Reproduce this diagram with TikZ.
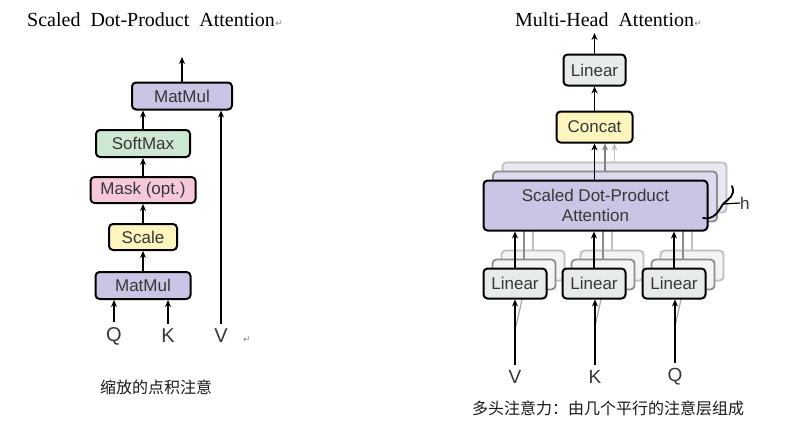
\documentclass[tikz,border=0pt]{standalone}
\usepackage{fontspec}
\setmainfont{Liberation Serif}
\setsansfont{Liberation Sans}
\newfontfamily\cjk{Noto Sans CJK SC}
\newfontfamily\symfont{DejaVu Sans}
\usetikzlibrary{arrows.meta,positioning}
\definecolor{mm-purple}{RGB}{203,196,228}
\definecolor{mm-purple-mid}{RGB}{221,217,238}
\definecolor{mm-purple-far}{RGB}{234,232,243}
\definecolor{sm-green}{RGB}{205,232,210}
\definecolor{mask-pink}{RGB}{246,200,220}
\definecolor{scale-yellow}{RGB}{252,245,190}
\definecolor{lin-gray}{RGB}{231,236,234}
\definecolor{lin-gray-back}{RGB}{243,245,244}
\definecolor{txt-gray}{RGB}{55,55,55}

\begin{document}
\begin{tikzpicture}[x=1pt, y=-1pt, >={Stealth[length=7pt,width=6pt]},
	blk/.style={draw, line width=2pt, rounded corners=4pt, inner sep=0pt,
		font={\sffamily\fontsize{17}{20}\selectfont}, text=txt-gray},
	ghostmid/.style={draw=black!45, line width=1.8pt, rounded corners=4pt},
	ghostfar/.style={draw=black!25, line width=1.8pt, rounded corners=4pt},
	arr/.style={->, line width=1.6pt},
	garr/.style={->, line width=1.4pt},
	lbl/.style={inner sep=5pt, font={\sffamily\fontsize{20}{20}\selectfont}, text=txt-gray},
	ttl/.style={inner sep=0pt, font={\fontsize{20}{24}\selectfont}},
	ret/.style={inner sep=0pt, text=black!50, font={\symfont\fontsize{9}{9}\selectfont}},
	captxt/.style={inner sep=0pt, text=black!90, font={\cjk\fontsize{16}{16}\selectfont}}]
	\useasboundingbox[fill=white] (0,0) rectangle (787,431);

	% scaled dot-product attention
	\node[ttl, anchor=base west] (titleL) at (27,26) {Scaled~~Dot-Product~~Attention};
	\node[ret, anchor=base west] (retL) at (titleL.base east) {↵};
	\node[blk, fill=mm-purple, minimum width=100pt, minimum height=27pt] (mmtop) at (182,96) {MatMul};
	\node[blk, fill=sm-green, minimum width=94pt, minimum height=27pt] (softmax) at (143,143.5) {SoftMax};
	\node[blk, fill=mask-pink, minimum width=105pt, minimum height=26pt] (mask) at (143,190) {Mask (opt.)};
	\node[blk, fill=scale-yellow, minimum width=68pt, minimum height=26pt] (scale) at (143,237) {Scale};
	\node[blk, fill=mm-purple, minimum width=95pt, minimum height=27pt] (mmbot) at (143,285.5) {MatMul};
	\node[lbl] (q) at (114,336) {Q};
	\node[lbl] (k) at (168,336) {K};
	\node[lbl] (v) at (221,336) {V};
	\node[ret, anchor=base west] (retV) at ([xshift=10pt]v.base east) {↵};
	\coordinate (outL) at (182,57);
	\draw[arr] (q.north) -- (q.north |- mmbot.south);
	\draw[arr] (k.north) -- (k.north |- mmbot.south);
	\draw[arr] (v.north) -- (v.north |- mmtop.south);
	\draw[arr] (mmbot.north) -- (scale.south);
	\draw[arr] (scale.north) -- (mask.south);
	\draw[arr] (mask.north) -- (softmax.south);
	\draw[arr] (softmax.north) -- (softmax.north |- mmtop.south);
	\draw[arr] (mmtop.north) -- (outL);
	\node[captxt] (capL) at (156,387) {缩放的点积注意};

	% multi-head attention
	\node[ttl, anchor=base west] (titleR) at (515,26) {Multi-Head~~Attention};
	\node[ret, anchor=base west] (retR) at (titleR.base east) {↵};
	% far copy
	\node[ghostfar, fill=mm-purple-far, minimum width=224pt, minimum height=50pt] (sdpa3) at (614.5,187.5) {};
	\node[ghostfar, fill=lin-gray-back, minimum width=63pt, minimum height=30pt] (lv3) at (533,265.5) {};
	\node[ghostfar, fill=lin-gray-back, minimum width=63pt, minimum height=30pt] (lk3) at (612,265.5) {};
	\node[ghostfar, fill=lin-gray-back, minimum width=63pt, minimum height=30pt] (lq3) at (692,265.5) {};
	\draw[line width=1.4pt, black!25] (lv3.north) -- (lv3.north |- sdpa3.south);
	\draw[line width=1.4pt, black!25] (lk3.north) -- (lk3.north |- sdpa3.south);
	\draw[line width=1.4pt, black!25] (lq3.north) -- (lq3.north |- sdpa3.south);
	% middle copy
	\node[ghostmid, fill=mm-purple-mid, minimum width=224pt, minimum height=50pt] (sdpa2) at (605,196.5) {};
	\node[ghostmid, fill=lin-gray-back, minimum width=63pt, minimum height=30pt] (lv2) at (524,274.5) {};
	\node[ghostmid, fill=lin-gray-back, minimum width=63pt, minimum height=30pt] (lk2) at (603,274.5) {};
	\node[ghostmid, fill=lin-gray-back, minimum width=63pt, minimum height=30pt] (lq2) at (683,274.5) {};
	\draw[line width=1.4pt, black!45] (lv2.north) -- (lv2.north |- sdpa2.south);
	\draw[line width=1.4pt, black!45] (lk2.north) -- (lk2.north |- sdpa2.south);
	\draw[line width=1.4pt, black!45] (lq2.north) -- (lq2.north |- sdpa2.south);
	% inputs split to the copies
	\draw[line width=1.2pt, black!35] ([xshift=-8pt,yshift=-36pt]lv2.south) -- (lv2.south);
	\draw[line width=1.2pt, black!35] ([xshift=-8pt,yshift=-36pt]lk2.south) -- (lk2.south);
	\draw[line width=1.2pt, black!35] ([xshift=-8pt,yshift=-36pt]lq2.south) -- (lq2.south);
	% front copy
	\node[blk, fill=mm-purple, minimum width=224pt, minimum height=50pt, align=center] (sdpa1) at (595.5,205.5) {Scaled Dot-Product\\Attention};
	\node[blk, fill=lin-gray, minimum width=63pt, minimum height=30pt] (lv1) at (515,283.5) {Linear};
	\node[blk, fill=lin-gray, minimum width=63pt, minimum height=30pt] (lk1) at (594,283.5) {Linear};
	\node[blk, fill=lin-gray, minimum width=63pt, minimum height=30pt] (lq1) at (674,283.5) {Linear};
	\node[blk, fill=scale-yellow, minimum width=76pt, minimum height=31pt] (concat) at (594.5,127) {Concat};
	\node[blk, fill=lin-gray, minimum width=62pt, minimum height=31pt] (linout) at (594.5,70) {Linear};
	\node[lbl, font={\sffamily\fontsize{19}{19}\selectfont}] (v2) at (515,377) {V};
	\node[lbl, font={\sffamily\fontsize{19}{19}\selectfont}] (k2) at (595,377) {K};
	\node[lbl, font={\sffamily\fontsize{19}{19}\selectfont}] (q2) at (675,377) {Q};
	\coordinate (outR) at (594.5,33);
	\draw[arr] (v2.north) -- (lv1.south);
	\draw[arr] (k2.north) -- (k2.north |- lk1.south);
	\draw[arr] (q2.north) -- (q2.north |- lq1.south);
	\draw[arr] (lv1.north) -- (lv1.north |- sdpa1.south);
	\draw[arr] (lk1.north) -- (lk1.north |- sdpa1.south);
	\draw[arr] (lq1.north) -- (lq1.north |- sdpa1.south);
	\draw[garr, black!25] (sdpa3.north) -- (sdpa3.north |- concat.south);
	\draw[garr, black!50] (sdpa2.north) -- (sdpa2.north |- concat.south);
	\draw[arr] (sdpa1.north -| concat) -- (concat.south);
	\draw[arr] (concat.north) -- (linout.south);
	\draw[arr] (linout.north) -- (outR);
	% brace for h heads
	\coordinate (brmid) at (723,204);
	\draw[line width=1.8pt, line cap=round] (732,186) .. controls (736,196) and (728,199) .. (brmid) .. controls (718,212) and (714,220) .. (703,218);
	\node[inner sep=0pt, anchor=west, font={\sffamily\fontsize{17}{17}\selectfont}, text=txt-gray] (hlbl) at (740,203) {h};
	\draw[line width=1.2pt] (brmid) -- (hlbl.west);
	\node[captxt] (capR) at (608,408) {多头注意力：由几个平行的注意层组成};
\end{tikzpicture}
\end{document}
